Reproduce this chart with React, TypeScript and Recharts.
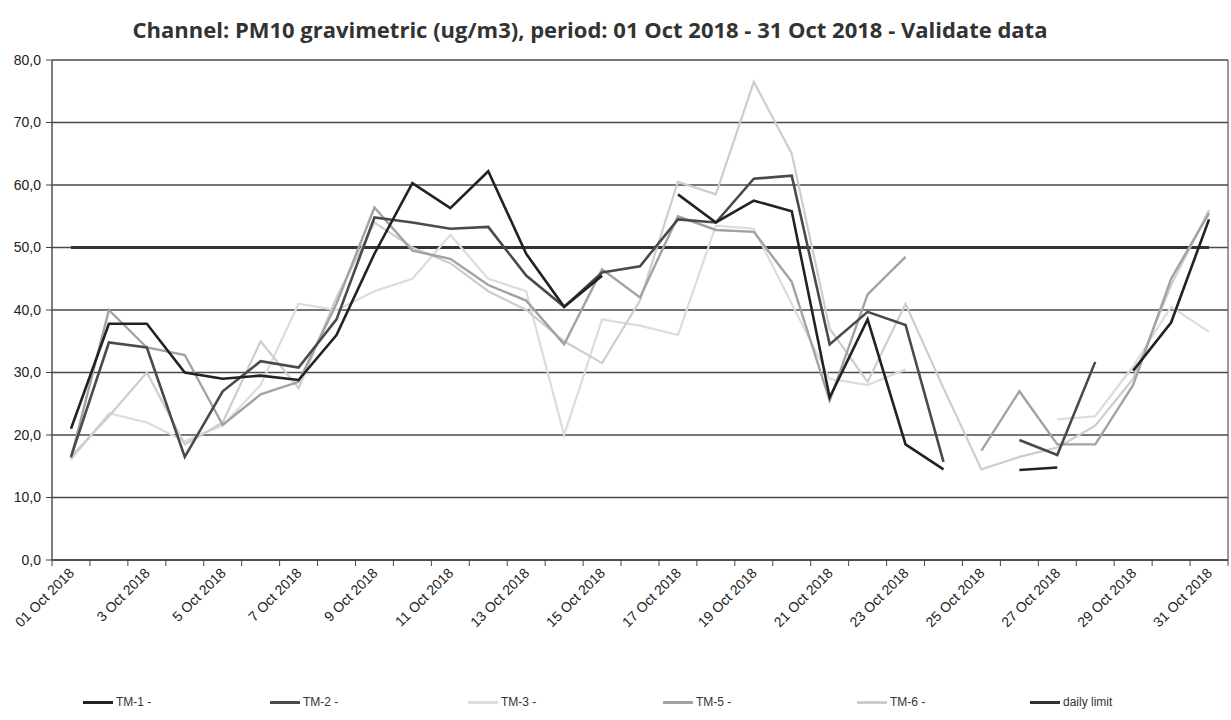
import React from "react";
import { LineChart, Line, XAxis, YAxis, CartesianGrid } from "recharts";

const days = [
  "01 Oct 2018", "2 Oct 2018", "3 Oct 2018", "4 Oct 2018", "5 Oct 2018", "6 Oct 2018",
  "7 Oct 2018", "8 Oct 2018", "9 Oct 2018", "10 Oct 2018", "11 Oct 2018", "12 Oct 2018",
  "13 Oct 2018", "14 Oct 2018", "15 Oct 2018", "16 Oct 2018", "17 Oct 2018", "18 Oct 2018",
  "19 Oct 2018", "20 Oct 2018", "21 Oct 2018", "22 Oct 2018", "23 Oct 2018", "24 Oct 2018",
  "25 Oct 2018", "26 Oct 2018", "27 Oct 2018", "28 Oct 2018", "29 Oct 2018", "30 Oct 2018",
  "31 Oct 2018",
];

const tm1 = [21, 37.8, 37.8, 30, 29, 29.5, 28.8, 36, 49, 60.3, 56.3, 62.2, 49, 40.5, 45.5, null, 58.5, 54, 57.5, 55.8, 26, 38.5, 18.5, 14.5, null, 14.4, 14.8, null, 30.3, 38, 54.5];
const tm2 = [16.5, 34.8, 34, 16.5, 27, 31.8, 30.8, 38.5, 54.8, 54, 53, 53.3, 45.5, 40.5, 46, 47, 54.5, 54, 61, 61.5, 34.5, 39.7, 37.6, 15.7, null, 19.2, 16.8, 31.7, null, null, null];
const tm3 = [16, 23.5, 22, 19, 21.5, 28, 41, 40, 43, 45, 52, 45, 43, 20, 38.5, 37.5, 36, 53.5, 53, 41, 29, 28, 30.5, null, null, null, 22.5, 23, 31, 40.5, 36.5];
const tm5 = [16.3, 40, 34, 32.8, 21.6, 26.5, 28.5, 41, 56.4, 49.5, 48.2, 44, 41.5, 34.5, 46.5, 42, 55, 52.8, 52.5, 44.5, 25.5, 42.5, 48.5, null, 17.5, 27, 18.5, 18.5, 28, 45, 55.5];
const tm6 = [16.5, 23, 30, 18.5, 22, 35, 27.5, 42, 54, 50, 47.5, 43, 40, 35, 31.5, 41.5, 60.5, 58.5, 76.5, 65, 37, 28.5, 41, 27.5, 14.5, 16.5, 18, 21.5, 29, 44, 56];
const dailyLimit = [50, 50, 50, 50, 50, 50, 50, 50, 50, 50, 50, 50, 50, 50, 50, 50, 50, 50, 50, 50, 50, 50, 50, 50, 50, 50, 50, 50, 50, 50, 50];

const yTicks = [0, 10, 20, 30, 40, 50, 60, 70, 80];

const series = [
  { key: "tm1", name: "TM-1 -", color: "#222222", left: 83 },
  { key: "tm2", name: "TM-2 -", color: "#4a4a4a", left: 270 },
  { key: "tm3", name: "TM-3 -", color: "#dcdcdc", left: 468 },
  { key: "tm5", name: "TM-5 -", color: "#a2a2a2", left: 663 },
  { key: "tm6", name: "TM-6 -", color: "#cdcdcd", left: 857 },
  { key: "limit", name: "daily limit", color: "#333333", left: 1030 },
];

const data = days.map((day, i) => ({
  day,
  tm1: tm1[i],
  tm2: tm2[i],
  tm3: tm3[i],
  tm5: tm5[i],
  tm6: tm6[i],
  limit: dailyLimit[i],
}));

const CHART_W = 1231;
const CHART_H = 720;
const Y_W = 52;
const R_W = 3;
const PLOT_W = CHART_W - Y_W - R_W;
const BAND = PLOT_W / days.length;

const XTick = (props: any) => {
  const { x, y, payload } = props;
  const i = payload && typeof payload.index === "number" ? payload.index : props.index;
  const half = BAND / 2;
  const tx = x + 4;
  const ty = y + 14;
  return (
    <g>
      <line x1={x - half} y1={y} x2={x - half} y2={y + 6} stroke="#444" strokeWidth={1} />
      {i === days.length - 1 && (
        <line x1={x + half} y1={y} x2={x + half} y2={y + 6} stroke="#444" strokeWidth={1} />
      )}
      {i % 2 === 0 && (
        <text
          x={tx}
          y={ty}
          transform={`rotate(-45 ${tx} ${ty})`}
          textAnchor="end"
          fontSize={14}
          fontFamily="Arial, 'Liberation Sans', sans-serif"
          fill="#222"
        >
          {payload.value}
        </text>
      )}
    </g>
  );
};

const fmt = (v: number) => v.toFixed(1).replace(".", ",");

export default function App() {
  return (
    <div
      style={{
        position: "absolute",
        left: 0,
        top: 0,
        width: CHART_W,
        height: CHART_H,
        background: "#ffffff",
        overflow: "hidden",
      }}
    >
      <div
        style={{
          position: "absolute",
          left: 0,
          top: 15,
          width: 1180,
          textAlign: "center",
          fontFamily: "'Open Sans', sans-serif",
          fontWeight: 700,
          fontSize: 22,
          lineHeight: "28px",
          color: "#333",
        }}
      >
        Channel: PM10 gravimetric (ug/m3), period: 01 Oct 2018 - 31 Oct 2018 - Validate data
      </div>
      <LineChart
        width={CHART_W}
        height={CHART_H}
        data={data}
        margin={{ top: 60, right: 0, left: 0, bottom: 70 }}
      >
        <CartesianGrid vertical={false} stroke="#4a4a4a" strokeWidth={1.4} />
        <XAxis
          dataKey="day"
          interval={0}
          tickLine={false}
          tickSize={0}
          tickMargin={0}
          height={90}
          padding={{ left: BAND / 2, right: BAND / 2 }}
          axisLine={{ stroke: "#444", strokeWidth: 1.4 }}
          tick={<XTick />}
        />
        <YAxis
          width={Y_W}
          domain={[0, 80]}
          ticks={yTicks}
          tickFormatter={fmt}
          tickMargin={5}
          tickLine={{ stroke: "#444" }}
          axisLine={{ stroke: "#444", strokeWidth: 1.4 }}
          tick={{ fontSize: 14, fontFamily: "Arial, 'Liberation Sans', sans-serif", fill: "#222" }}
        />
        <YAxis
          yAxisId="right"
          orientation="right"
          width={R_W}
          domain={[0, 80]}
          ticks={yTicks}
          tick={false}
          tickLine={false}
          axisLine={{ stroke: "#555", strokeWidth: 1.2 }}
        />
        <Line dataKey="limit" name="daily limit" stroke="#333" strokeWidth={3} dot={false} isAnimationActive={false} />
        <Line dataKey="tm3" name="TM-3 -" stroke="#dcdcdc" strokeWidth={2.2} dot={false} isAnimationActive={false} />
        <Line dataKey="tm6" name="TM-6 -" stroke="#cdcdcd" strokeWidth={2.2} dot={false} isAnimationActive={false} />
        <Line dataKey="tm5" name="TM-5 -" stroke="#a2a2a2" strokeWidth={2.4} dot={false} isAnimationActive={false} />
        <Line dataKey="tm2" name="TM-2 -" stroke="#4a4a4a" strokeWidth={2.6} dot={false} isAnimationActive={false} />
        <Line dataKey="tm1" name="TM-1 -" stroke="#222222" strokeWidth={2.6} dot={false} isAnimationActive={false} />
      </LineChart>
      {series.map((s) => (
        <div
          key={s.key}
          style={{
            position: "absolute",
            left: s.left,
            top: 695,
            display: "flex",
            alignItems: "center",
            fontFamily: "Arial, 'Liberation Sans', sans-serif",
            fontSize: 12,
            color: "#333",
          }}
        >
          <span
            style={{
              display: "inline-block",
              width: 30,
              height: 3,
              background: s.color,
              marginRight: 3,
            }}
          />
          <span>{s.name}</span>
        </div>
      ))}
    </div>
  );
}
